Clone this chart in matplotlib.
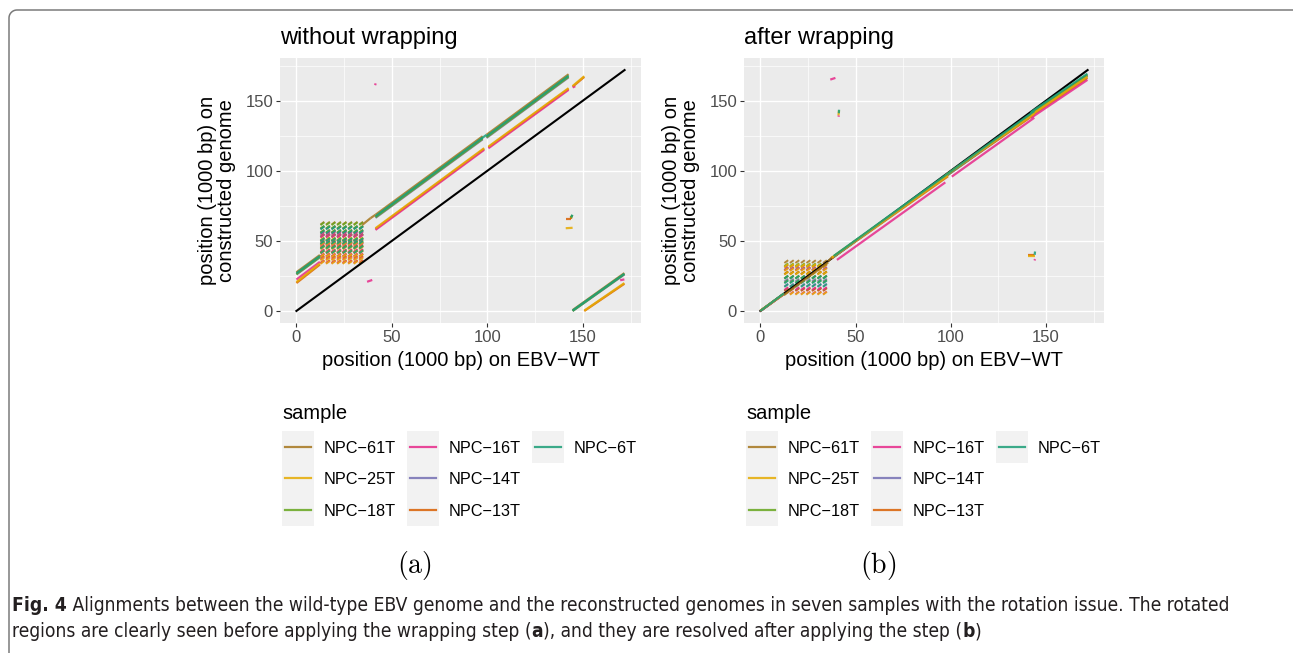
import matplotlib
matplotlib.use("Agg")
import numpy as np
import matplotlib.pyplot as plt
from matplotlib import font_manager as fm
from matplotlib.collections import LineCollection
from matplotlib.patches import Rectangle
from matplotlib.lines import Line2D

plt.rcParams['font.family'] = ['Liberation Sans', 'DejaVu Sans']
plt.rcParams['mathtext.fontset'] = 'cm'

# ---------------- data ----------------
samples = ["NPC\u221261T", "NPC\u221225T", "NPC\u221218T", "NPC\u221216T",
           "NPC\u221214T", "NPC\u221213T", "NPC\u22126T"]
colors = ["#A6761D", "#E6AB02", "#66A61E", "#E7298A", "#7570B3", "#D95F02", "#1B9E77"]
draw_order = [5, 0, 4, 2, 3, 1, 6]   # order in which the sample layers are stacked

ref_line_x = [0, 171.8]
ref_line_y = [0, 171.8]
ticks_major = [0, 50, 100, 150]
ticks_minor = [25, 75, 125, 175]

# reference positions (kbp) of the repeat units in the IR1 region
repeat_x = [12.6, 15.5, 18.4, 21.3, 24.2, 27.1, 30.0, 32.9]

# ---- panel (a): segments (x0, y0, x1, y1) ----
a_61T_lines = [(0, 27.6, 12.3, 39.9), (34.5, 61.4, 38.8, 66.2), (38.8, 66.2, 41.4, 68.6),
               (41.4, 68.6, 97.5, 124.6), (99.5, 125.6, 142.5, 168.8), (144.6, 0.6, 171.7, 27.0)]
a_25T_lines = [(0, 20.6, 12.3, 33.8), (41.4, 59.0, 98.3, 116.1), (100.5, 117.2, 142.5, 158.9),
               (144.6, 160.4, 150.7, 167.4), (150.7, 0.2, 171.7, 19.9), (141.0, 59.0, 144.6, 59.3)]
a_18T_lines = [(0, 26.2, 12.3, 38.5), (41.4, 66.8, 97.5, 122.8), (99.5, 123.8, 142.5, 167.0),
               (144.6, 0.0, 171.7, 26.3), (143.8, 66.3, 144.4, 68.4)]
a_16T_lines = [(0, 22.4, 12.3, 35.0), (37.0, 20.8, 39.7, 22.1), (41.2, 161.0, 41.5, 162.3),
               (41.4, 57.8, 98.3, 114.9), (100.5, 116.0, 142.5, 157.7), (144.6, 159.4, 146.0, 160.3),
               (169.5, 21.9, 171.7, 22.5)]
a_14T_lines = [(0, 26.0, 12.3, 38.3), (41.4, 66.4, 97.5, 122.4), (99.5, 123.4, 142.5, 166.6),
               (144.6, 0.0, 171.7, 26.0)]
a_13T_lines = [(0, 19.9, 12.3, 33.1), (41.4, 58.5, 98.3, 115.6), (100.5, 116.7, 142.5, 158.4),
               (144.6, 159.9, 150.7, 166.9), (150.7, 0.0, 171.7, 19.4), (141.0, 65.5, 144.0, 65.5),
               (144.0, 65.5, 144.0, 67.8)]
a_6T_lines = [(0, 26.9, 12.3, 39.2), (41.4, 67.6, 97.5, 123.6), (96.5, 122.6, 99.5, 125.6),
              (99.5, 124.6, 142.5, 167.8), (144.6, 0.3, 171.7, 26.5), (143.9, 67.0, 144.5, 68.6)]

# repeat-unit copies on the constructed genome (centre, kbp)
a_61T_rows = [62.6, 59.6, 56.5, 53.6, 50.8, 48.6, 45.2, 42.9, 39.8]
a_25T_rows = [51.5, 48.0, 45.1, 42.3, 39.6, 37.1, 34.6]
a_18T_rows = [62.2, 59.8, 57.0, 54.0, 51.2, 48.4, 45.6]
a_16T_rows = [55.3, 53.4, 47.5, 43.0, 40.0, 37.5, 34.9]
a_14T_rows = [59.4, 56.7, 53.9, 50.6, 47.9]
a_13T_rows = [49.8, 46.3, 42.0, 38.4, 35.3]
a_6T_rows = [59.2, 56.2, 51.0, 48.9, 45.5, 42.2]

# ---- panel (b) ----
b_61T_lines = [(0, 0, 12.3, 12.1), (12.3, 11.3, 35.6, 34.6), (35.6, 35.4, 37.8, 38.6),
               (37.8, 38.2, 143.8, 141.0), (142.0, 140.4, 171.7, 167.8)]
b_25T_lines = [(0, 0.2, 12.3, 12.0), (37.5, 38.0, 98.5, 96.6), (97.0, 96.6, 143.8, 140.6),
               (142.0, 139.6, 171.7, 167.0), (140.6, 39.3, 144.3, 39.3), (41.0, 139.5, 41.3, 143.0)]
b_18T_lines = [(0, 0, 12.3, 12.3), (38.5, 38.9, 143.8, 141.8), (142.0, 141.0, 171.7, 168.4)]
b_16T_lines = [(0, 0, 12.3, 11.9), (36.7, 165.0, 39.4, 166.2), (40.2, 36.4, 97.1, 91.7),
               (100.5, 95.8, 143.8, 137.8), (142.0, 137.6, 171.7, 164.8), (143.9, 36.0, 144.2, 37.0),
               (41.0, 138.5, 41.2, 139.5)]
b_14T_lines = [(0, 0, 12.3, 12.2), (38.5, 38.6, 143.8, 141.4), (142.0, 140.8, 171.7, 168.0)]
b_13T_lines = [(0, 0, 12.3, 12.0), (37.5, 37.6, 98.5, 96.0), (97.0, 96.0, 143.8, 140.0),
               (142.0, 139.0, 171.7, 166.2), (140.6, 39.8, 143.8, 39.8)]
b_6T_lines = [(0, 0, 12.3, 12.4), (38.5, 39.2, 143.8, 142.6), (142.0, 141.8, 171.7, 169.2),
              (144.0, 40.0, 144.2, 42.4), (41.2, 141.0, 41.3, 143.5)]

b_61T_rows = [35.2, 27.2, 24.3, 15.5]
b_25T_rows = [32.4, 29.5, 26.9, 12.6]
b_18T_rows = [33.0, 24.0, 21.1]
b_16T_rows = [29.8, 16.0, 12.9]
b_14T_rows = [30.2, 22.0, 18.5]
b_13T_rows = [32.0, 27.2, 30.2, 15.2]
b_6T_rows = [24.1, 20.7, 18.1]

panel_titles = ["without wrapping", "after wrapping"]
panel_tags = [r"$\mathrm{(a)}$", r"$\mathrm{(b)}$"]
xlabel = "position (1000 bp) on EBV\u2212WT"
ylabel = "position (1000 bp) on\nconstructed genome"
legend_title = "sample"
caption_bold = "Fig. 4"
caption_1 = (" Alignments between the wild-type EBV genome and the reconstructed genomes in seven "
             "samples with the rotation issue. The rotated")
caption_2 = ("regions are clearly seen before applying the wrapping step (", "a",
             "), and they are resolved after applying the step (", "b", ")")

panel_a_lines = [a_61T_lines, a_25T_lines, a_18T_lines, a_16T_lines, a_14T_lines, a_13T_lines, a_6T_lines]
panel_a_rows = [a_61T_rows, a_25T_rows, a_18T_rows, a_16T_rows, a_14T_rows, a_13T_rows, a_6T_rows]
panel_b_lines = [b_61T_lines, b_25T_lines, b_18T_lines, b_16T_lines, b_14T_lines, b_13T_lines, b_6T_lines]
panel_b_rows = [b_61T_rows, b_25T_rows, b_18T_rows, b_16T_rows, b_14T_rows, b_13T_rows, b_6T_rows]

# ---------------- layout ----------------
W, H = 1293, 653
fig = plt.figure(figsize=(W / 100, H / 100), dpi=100)
fig.patch.set_facecolor("white")


def fx(x):
    return x / W


def fy(y):
    return 1 - y / H


# figure frame (rounded top-left corner)
r = 8
theta = np.linspace(np.pi, np.pi / 2, 12)
cx, cy = 9 + r, 10 + r
fr_x = [9, 9] + list(cx + r * np.cos(theta)) + [1293]
fr_y = [653, cy] + list(cy - r * np.sin(theta)) + [10]
fig.add_artist(Line2D([fx(v) for v in fr_x], [fy(v) for v in fr_y], transform=fig.transFigure,
                      color="#7a7a7a", lw=1.1))

XLIM = (-8.59, 180.4)
YLIM = (-8.59, 180.4)
panels = [(280, 58, 641, 323), (744, 58, 1104, 323)]
dash = 2.0

for p, (l, t, rgt, b) in enumerate(panels):
    ax = fig.add_axes([fx(l), fy(b), fx(rgt) - fx(l), fy(t) - fy(b)])
    ax.set_facecolor("#EBEBEB")
    ax.set_xlim(*XLIM)
    ax.set_ylim(*YLIM)
    for s in ax.spines.values():
        s.set_visible(False)
    ax.set_xticks(ticks_major)
    ax.set_yticks(ticks_major)
    ax.set_xticks(ticks_minor, minor=True)
    ax.set_yticks(ticks_minor, minor=True)
    ax.grid(which="major", color="white", lw=1.0)
    ax.grid(which="minor", color="white", lw=0.5)
    ax.set_axisbelow(True)
    ax.tick_params(which="major", length=3, width=0.8, color="#333333", labelsize=12,
                   labelcolor="#4D4D4D", pad=2)
    ax.tick_params(which="minor", length=0)

    lines_all = panel_a_lines if p == 0 else panel_b_lines
    rows_all = panel_a_rows if p == 0 else panel_b_rows

    # repeat-region dashes
    for z, k in enumerate(draw_order):
        segs = []
        for ry in rows_all[k]:
            for rx in repeat_x:
                segs.append([(rx, ry - dash / 2), (rx + dash, ry + dash / 2)])
        ax.add_collection(LineCollection(segs, colors=colors[k], linewidths=1.4, alpha=0.85,
                                         zorder=2 + z * 0.01))

    # reference diagonal
    ax.plot(ref_line_x, ref_line_y, color="black", lw=1.5, zorder=3 if p == 1 else 5)

    for z, k in enumerate(draw_order):
        segs = [[(x0, y0), (x1, y1)] for (x0, y0, x1, y1) in lines_all[k]]
        ax.add_collection(LineCollection(segs, colors=colors[k], linewidths=1.6, alpha=0.85,
                                         zorder=4 + z * 0.01, capstyle="butt"))

    # titles and axis titles
    fig.text(fx(l), fy(44), panel_titles[p], fontsize=17, va="baseline", ha="left")
    fig.text(fx((l + rgt) / 2), fy(366), xlabel, fontsize=14.5, va="baseline", ha="center")
    fig.text(fx(l - 63), fy((t + b) / 2), ylabel, fontsize=14.5, va="center", ha="center",
             rotation=90, linespacing=1.0)

    # legend
    fig.text(fx(l + 2), fy(419), legend_title, fontsize=14.5, va="baseline", ha="left")
    col_x = [l + 2, l + 127, l + 252]
    row_top = 431
    row_h = 31.5
    for k, name in enumerate(samples):
        c = k // 3
        rr = k % 3
        bx = col_x[c]
        by = row_top + rr * row_h
        fig.add_artist(Rectangle((fx(bx), fy(by + row_h)), fx(32), row_h / H,
                                 transform=fig.transFigure, facecolor="#F2F2F2", edgecolor="none"))
        cyy = by + row_h / 2
        fig.add_artist(Line2D([fx(bx + 3), fx(bx + 29)], [fy(cyy), fy(cyy)], transform=fig.transFigure,
                              color=colors[k], lw=1.6, alpha=0.85))
        fig.text(fx(bx + 42), fy(cyy + 5.8), name, fontsize=11.7, va="baseline", ha="left")

    # panel tag
    fig.text(fx((l + rgt) / 2 - 46), fy(565), panel_tags[p], fontsize=20, va="center", ha="center")

# ---------------- caption ----------------
names = {f.name for f in fm.fontManager.ttflist}
cap_kw = {}
if 'Liberation Sans Narrow' in names:
    cap_kw = dict(family=['Liberation Sans Narrow', 'DejaVu Sans'])
elif any(f.name == 'DejaVu Sans' and 'Condensed' in f.fname for f in fm.fontManager.ttflist):
    cap_kw = dict(family=['DejaVu Sans'], fontstretch='condensed')
else:
    cap_kw = dict(family=['Liberation Sans', 'DejaVu Sans'])

cap_col = "#231F20"
renderer = fig.canvas.get_renderer()
# fit the font size so that the first caption line spans the same width as the original
probe = fig.text(0, 0, caption_bold + caption_1, fontsize=10, **cap_kw)
pw = probe.get_window_extent(renderer).width
probe.remove()
cap_size = 10 * 1208 / pw

t1 = fig.text(fx(12), fy(611), caption_bold, fontsize=cap_size, fontweight="bold",
              va="baseline", ha="left", color=cap_col, **cap_kw)
bb = t1.get_window_extent(renderer)
fig.text(bb.x1 / W, fy(611), caption_1, fontsize=cap_size, va="baseline",
         ha="left", color=cap_col, **cap_kw)
xcur = 12
for piece in caption_2:
    bold = piece in ("a", "b")
    tt = fig.text(fx(xcur), fy(637), piece, fontsize=cap_size, va="baseline",
                  ha="left", color=cap_col, fontweight="bold" if bold else "normal", **cap_kw)
    xcur = tt.get_window_extent(renderer).x1

fig.savefig("out.png", dpi=100)
